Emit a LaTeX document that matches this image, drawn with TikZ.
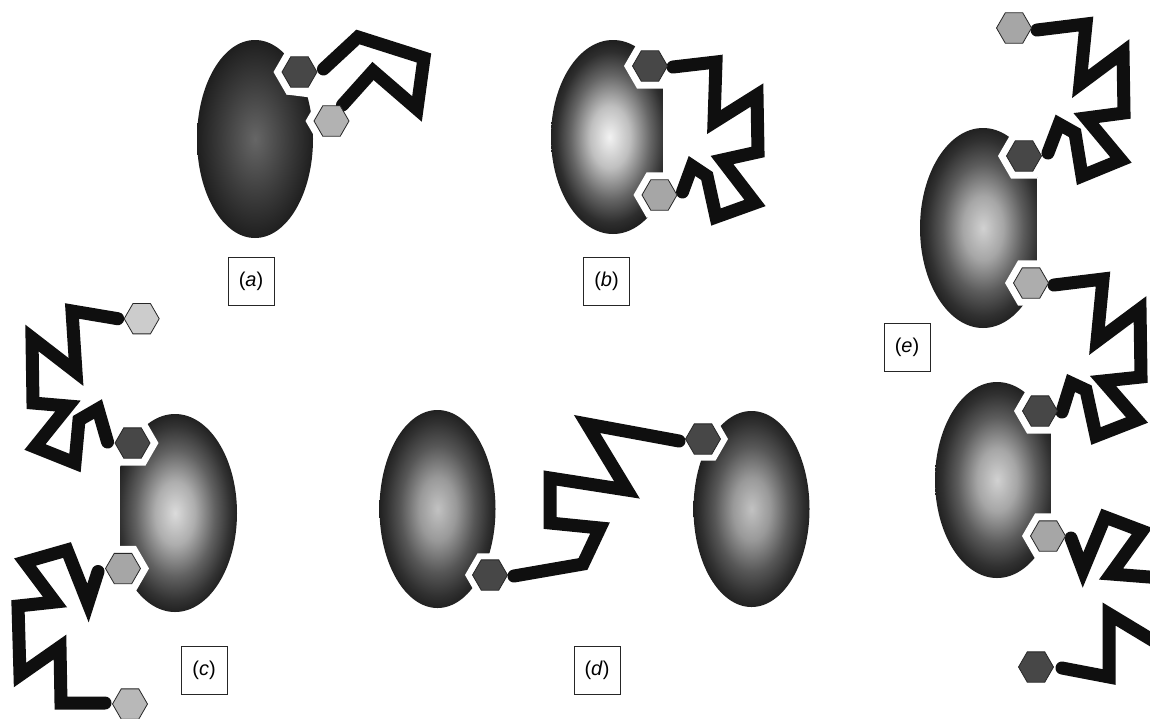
\documentclass[tikz,border=0pt]{standalone}
\usepackage{fontspec}
\newfontfamily\labelfont{Liberation Sans}
\usetikzlibrary{shapes.geometric,calc}

% drawing layers: shaded cells, white sockets, linker chains, hexagons on top
\pgfdeclarelayer{cells}
\pgfdeclarelayer{cuts}
\pgfdeclarelayer{links}
\pgfsetlayers{cells,cuts,links,main}

% radial shadings for the oval bodies (the path edge sits at 25bp)
\pgfdeclareradialshading{cellA}{\pgfpointorigin}{color(0bp)=(black!60); color(14bp)=(black!76); color(25bp)=(black!88); color(50bp)=(black!88)}
\pgfdeclareradialshading{cellB}{\pgfpoint{-1.5bp}{0bp}}{color(0bp)=(black!5); color(8bp)=(black!25); color(16bp)=(black!60); color(22bp)=(black!82); color(25bp)=(black!88); color(50bp)=(black!88)}
\pgfdeclareradialshading{cellC}{\pgfpointorigin}{color(0bp)=(black!14); color(8bp)=(black!32); color(16bp)=(black!62); color(22bp)=(black!80); color(25bp)=(black!87); color(50bp)=(black!87)}
\pgfdeclareradialshading{cellD}{\pgfpointorigin}{color(0bp)=(black!24); color(8bp)=(black!40); color(16bp)=(black!66); color(22bp)=(black!81); color(25bp)=(black!87); color(50bp)=(black!87)}
\pgfdeclareradialshading{cellE}{\pgfpointorigin}{color(0bp)=(black!18); color(8bp)=(black!35); color(16bp)=(black!64); color(22bp)=(black!81); color(25bp)=(black!87); color(50bp)=(black!87)}

\begin{document}
\begin{tikzpicture}[x=1pt,y=-1pt,
  hexbase/.style={regular polygon, regular polygon sides=6, minimum size=35pt,
    inner sep=0pt, draw=black!85, line width=0.8pt},
  hexdark/.style={hexbase, fill=black!72},
  hexmid/.style={hexbase, fill=black!35},
  hexpale/.style={hexbase, fill=black!20},
  socket/.style={regular polygon, regular polygon sides=6, minimum size=52pt,
    inner sep=0pt, fill=white},
  link/.style={draw=black!94, line width=13pt, line join=miter, line cap=round},
  tag/.style={draw=black!85, line width=0.7pt, minimum width=46pt, minimum height=48pt,
    inner sep=0pt, font=\labelfont\fontsize{20}{24}\selectfont}]

\useasboundingbox (0,0) rectangle (1150,718);

% ---------------- hexagonal ligands ----------------
% (a)
\node[hexdark] (ha1) at (299.5,72) {};
\node[hexbase, fill=black!30] (ha2) at (331.5,121) {};
% (b)
\node[hexdark] (hb1) at (650,66) {};
\node[hexmid] (hb2) at (659.5,195) {};
% (c)
\node[hexpale] (hc0) at (141.7,318.7) {};
\node[hexdark] (hc1) at (132.5,443) {};
\node[hexmid] (hc2) at (123,568.5) {};
\node[hexbase, fill=black!28] (hc3) at (130,704) {};
% (d)
\node[hexdark] (hd1) at (490,575) {};
\node[hexdark] (hd2) at (703,439) {};
% (e)
\node[hexmid] (he0) at (1014,28) {};
\node[hexdark] (he1) at (1024,156) {};
\node[hexbase, fill=black!32] (he2) at (1031,283) {};
\node[hexdark] (he3) at (1040,411) {};
\node[hexmid] (he4) at (1048,536) {};
\node[hexdark] (he5) at (1036,667) {};

% ---------------- oval bodies ----------------
\begin{pgfonlayer}{cells}
  \fill[white] (0,0) rectangle (1150,718);
  \shade[shading=cellA] (255,139) ellipse [x radius=58pt, y radius=99pt];
  \shade[shading=cellB] (613,137) ellipse [x radius=62pt, y radius=97pt];
  \shade[shading=cellC] (175,513) ellipse [x radius=62pt, y radius=99pt];
  \shade[shading=cellD] (437.5,509) ellipse [x radius=58pt, y radius=99pt];
  \shade[shading=cellD] (751.5,509) ellipse [x radius=58pt, y radius=98pt];
  \shade[shading=cellE] (983,228) ellipse [x radius=63pt, y radius=100pt];
  \shade[shading=cellE] (997,480) ellipse [x radius=62pt, y radius=98pt];
\end{pgfonlayer}

% ---------------- binding sockets ----------------
\begin{pgfonlayer}{cuts}
  % (a)
  \node[socket] (sa1) at (ha1) {};
  \node[socket] (sa2) at (ha2) {};
  \fill[white] (ha1.center) -- (286.5,94.5) -- (318.5,98.5) -- (ha2.center) -- cycle;
  % (b)
  \node[socket] (sb1) at (hb1) {};
  \node[socket] (sb2) at (hb2) {};
  \fill[white] (663,70) rectangle (690,173);
  % (c)
  \node[socket] (sc1) at (hc1) {};
  \node[socket] (sc2) at (hc2) {};
  \fill[white] (95,465) rectangle (120,547);
  % (d)
  \node[socket, minimum size=50pt] (sd1) at (hd1) {};
  \node[socket, minimum size=50pt] (sd2) at (hd2) {};
  % (e)
  \node[socket] (se1) at (he1) {};
  \node[socket] (se2) at (he2) {};
  \fill[white] (1037,178) rectangle (1062,261);
  \node[socket] (se3) at (he3) {};
  \node[socket] (se4) at (he4) {};
  \fill[white] (1051,433) rectangle (1076,514);
\end{pgfonlayer}

% ---------------- linker chains ----------------
\begin{pgfonlayer}{links}
  \clip (0,0) rectangle (1150,718);
  % (a)
  \draw[link] ($(ha1.east)+(6,-3)$) -- (358,37) -- (424,58) -- (417,109) -- (373,71)
    -- ($(ha2.center)+(11,-16)$);
  % (b)
  \draw[link] ($(hb1.east)+(5,1)$) -- (716,62) -- (714,122) -- (757,95) -- (758,152)
    -- (722,160) -- (755,203) -- (716,217) -- (707,176) -- (692,166)
    -- ($(hb2.east)+(5,-3)$);
  % (c)
  \draw[link] ($(hc0.west)+(-6,0)$) -- (72,311) -- (76,372) -- (32,338) -- (33,403)
    -- (68,406) -- (35,447) -- (75,463) -- (79,420) -- (98,409)
    -- ($(hc1.west)+(-7,-1)$);
  \draw[link] ($(hc2.west)+(-7,3)$) -- (88,603) -- (67,550) -- (25,562) -- (55,602)
    -- (18,606) -- (20,675) -- (60,647) -- (61,703) -- ($(hc3.west)+(-7,-1)$);
  % (d)
  \draw[link] ($(hd1.east)+(6,1)$) -- (583,564) -- (600,528) -- (550,523) -- (550,478)
    -- (627,490) -- (587,424) -- ($(hd2.west)+(-6,2)$);
  % (e)
  \draw[link] ($(he0.east)+(5,2)$) -- (1086,24) -- (1080,84) -- (1123,52) -- (1124,113)
    -- (1086,118) -- (1121,160) -- (1082,176) -- (1075,133) -- (1059,124)
    -- ($(he1.east)+(6,-3)$);
  \draw[link] ($(he2.east)+(5,2)$) -- (1103,279) -- (1097,341) -- (1140,309) -- (1141,377)
    -- (1103,381) -- (1137,420) -- (1096,436) -- (1086,390) -- (1071,383)
    -- ($(he3.east)+(4,1)$);
  \draw[link] ($(he4.east)+(5,2)$) -- (1083,570) -- (1105,517) -- (1142,531) -- (1111,574)
    -- (1162,578) -- (1162,646) -- (1109,614) -- (1109,677) -- ($(he5.east)+(8,1)$);
\end{pgfonlayer}

% ---------------- panel tags ----------------
\node[tag] (la) at (251,281.5) {(\textit{a})};
\node[tag] (lb) at (606.5,281.5) {(\textit{b})};
\node[tag] (lc) at (204,670) {(\textit{c})};
\node[tag] (ld) at (597,670) {(\textit{d})};
\node[tag] (le) at (907,347) {(\textit{e})};
\end{tikzpicture}
\end{document}
